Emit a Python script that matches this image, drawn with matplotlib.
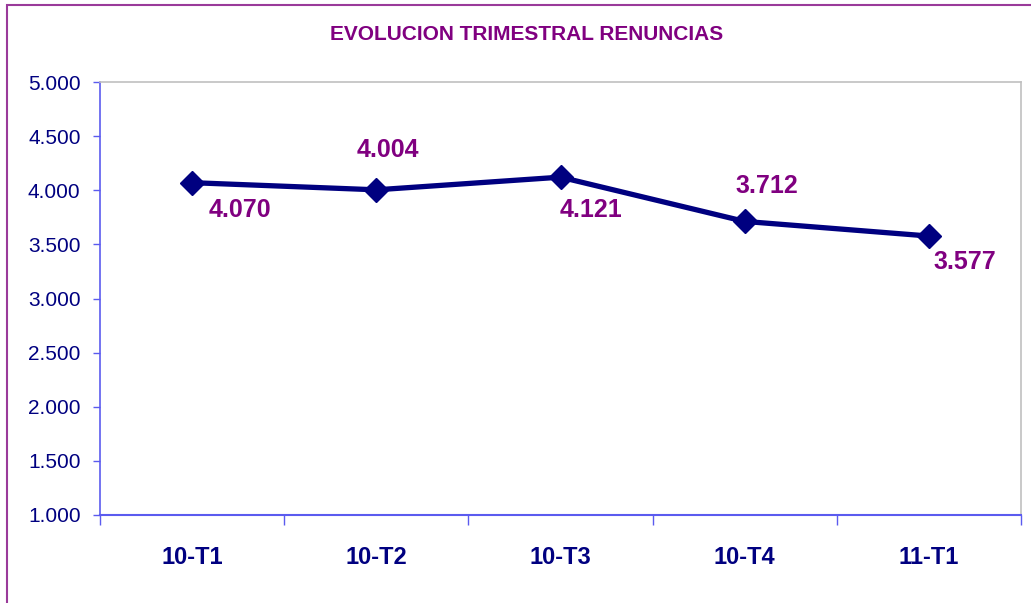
import matplotlib
matplotlib.use('Agg')
import matplotlib.pyplot as plt
from matplotlib.patches import Rectangle
from matplotlib.ticker import FixedLocator, FuncFormatter

# data
quarters = ['10-T1', '10-T2', '10-T3', '10-T4', '11-T1']
renuncias = [4070, 4004, 4121, 3712, 3577]
y_ticks = [1000, 1500, 2000, 2500, 3000, 3500, 4000, 4500, 5000]

# label offsets in pixels (style only)
label_offsets = [(48, -27), (12, 40), (31, -33), (22, 35), (36, -26)]

navy = '#000080'
purple = '#800080'
axis_blue = '#5B5BEF'

plt.rcParams['font.family'] = ['Liberation Sans', 'DejaVu Sans']

def es_fmt(v, pos=None):
   return ('{:,.0f}'.format(v)).replace(',', '.')

fig = plt.figure(figsize=(10.31, 6.03), dpi=100)
ax = fig.add_axes([100/1031., 88/603., 921/1031., 433/603.])

x = list(range(len(quarters)))
ax.plot(x, renuncias, color=navy, lw=3.8, marker='D', ms=12, mfc=navy, mec=navy, zorder=3)

for xi, v, off in zip(x, renuncias, label_offsets):
   ax.annotate(es_fmt(v), (xi, v), xytext=off, textcoords='offset pixels',
               ha='center', va='center', fontsize=18, fontweight='bold', color=purple)

ax.set_xlim(-0.5, len(quarters) - 0.5)
ax.set_ylim(1000, 5000)
ax.set_yticks(y_ticks)
ax.yaxis.set_major_formatter(FuncFormatter(es_fmt))
ax.tick_params(axis='y', direction='out', length=5, width=1, color=axis_blue,
               labelsize=15, labelcolor=navy, pad=9)

ax.set_xticks(x)
ax.set_xticklabels(quarters)
ax.xaxis.set_minor_locator(FixedLocator([i - 0.5 for i in range(len(quarters) + 1)]))
ax.tick_params(axis='x', which='major', length=0, labelsize=17, labelcolor=navy, pad=22)
for lab in ax.get_xticklabels():
   lab.set_fontweight('bold')
ax.tick_params(axis='x', which='minor', direction='out', length=7, width=1, color=axis_blue)

ax.spines['left'].set_color(axis_blue)
ax.spines['bottom'].set_color(axis_blue)
ax.spines['left'].set_linewidth(1.2)
ax.spines['bottom'].set_linewidth(1.5)
ax.spines['top'].set_color('#C0C0C0')
ax.spines['right'].set_color('#C0C0C0')
ax.spines['top'].set_linewidth(1.2)
ax.spines['right'].set_linewidth(1.2)

fig.text(527/1031., 1 - 35/603., 'EVOLUCION TRIMESTRAL RENUNCIAS', ha='center', va='center',
         fontsize=15, fontweight='bold', color=purple)

# outer chart border (cut off on right and bottom)
fig.patches.append(Rectangle((7/1031., -0.05), 1.1, 1 - 5/603. + 0.05, transform=fig.transFigure,
                             fill=False, edgecolor='#9A3A9A', lw=1.5))

plt.savefig('out.png', dpi=100)
